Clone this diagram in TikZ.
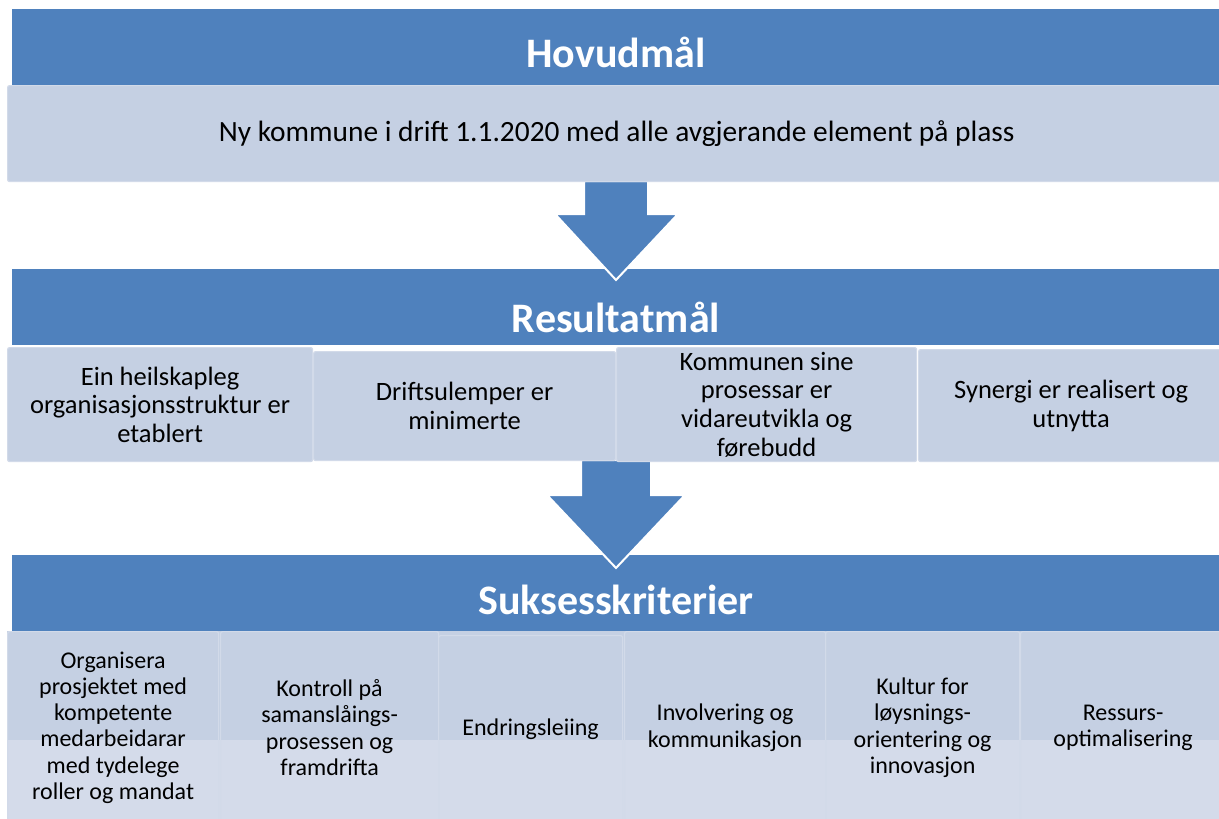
\documentclass[tikz,border=0pt]{standalone}
\usepackage{fontspec}
\setmainfont{Carlito}
\definecolor{hblue}{HTML}{4F81BD}
\definecolor{lbox}{HTML}{C5D0E3}
\definecolor{lbox2}{HTML}{D4DBEA}
\definecolor{edge}{HTML}{D2DAE9}
\begin{document}
\begin{tikzpicture}[x=1pt,y=-1pt,
  hdr/.style={fill=hblue, draw=none, anchor=north west, inner sep=0pt, minimum height=76pt, minimum width=1215pt},
  title/.style={text=white, font=\fontsize{42}{48}\selectfont\bfseries, anchor=base, inner sep=0pt},
  cellA/.style={fill=lbox, draw=edge, line width=1.2pt, rounded corners=2pt, anchor=north west, inner sep=0pt, align=center, font=\fontsize{26.5}{28.7}\selectfont},
  cellB/.style={fill=none, draw=edge, line width=1.2pt, rounded corners=2pt, anchor=north west, inner sep=0pt, align=center, font=\fontsize{24}{26.3}\selectfont},
  blockarrow/.style={fill=hblue, draw=white, line width=2pt, line join=miter}
]
\useasboundingbox (0,0) rectangle (1219,819);
\fill[white] (0,0) rectangle (1219,819);

% headers
\node[hdr] (h1) at (12,9) {};
\node[hdr] (h2) at (12,269) {};
\node[hdr, minimum height=77pt] (h3) at (12,555) {};

% block arrows
\draw[blockarrow] (584,181) -- (648,181) -- (648,214) -- (678,214) -- (616,280) -- (555,214) -- (584,214) -- cycle;
\draw[blockarrow] (581,460) -- (651,460) -- (651,495) -- (685,495) -- (616,568) -- (547,495) -- (581,495) -- cycle;

% titles
\node[title] (t1) at (616,67) {Hovudmål};
\node[title] (t2) at (616,332) {Resultatmål};
\node[title] (t3) at (616,614) {Suksesskriterier};

% goal
\node[cellA, font=\fontsize{29.4}{32}\selectfont, minimum width=1218pt, minimum height=96pt] (goal) at (7,85) {Ny kommune i drift 1.1.2020 med alle avgjerande element på plass};

% result row
\node[cellA, minimum width=305pt, minimum height=114pt] (r1) at (7,347) {Ein heilskapleg\\organisasjonsstruktur er\\etablert};
\node[cellA, minimum width=302pt, minimum height=109pt] (r2) at (313,351) {Driftsulemper er\\minimerte};
\node[cellA, minimum width=300pt, minimum height=114pt] (r3) at (616,347) {Kommunen sine\\prosessar er\\vidareutvikla og\\førebudd};
\node[cellA, minimum width=305pt, minimum height=112pt] (r4) at (918,349) {Synergi er realisert og\\utnytta};

% success row background
\fill[lbox] (7,631) rectangle (1219,740);
\fill[lbox2] (7,740) rectangle (1219,819);

\node[cellB, minimum width=211pt, minimum height=192pt] (s1) at (7,631) {Organisera\\prosjektet med\\kompetente\\medarbeidarar\\med tydelege\\roller og mandat};
\node[cellB, minimum width=218pt, minimum height=192pt] (s2) at (220,631) {Kontroll på\\samanslåings-\\prosessen og\\framdrifta};
\node[cellB, minimum width=184pt, minimum height=188pt] (s3) at (438,635) {Endringsleiing};
\node[cellB, minimum width=201pt, minimum height=192pt] (s4) at (624,631) {Involvering og\\kommunikasjon};
\node[cellB, minimum width=194pt, minimum height=192pt] (s5) at (825,631) {Kultur for\\løysnings-\\orientering og\\innovasjon};
\node[cellB, minimum width=205pt, minimum height=192pt] (s6) at (1020,631) {Ressurs-\\optimalisering};
\end{tikzpicture}
\end{document}
